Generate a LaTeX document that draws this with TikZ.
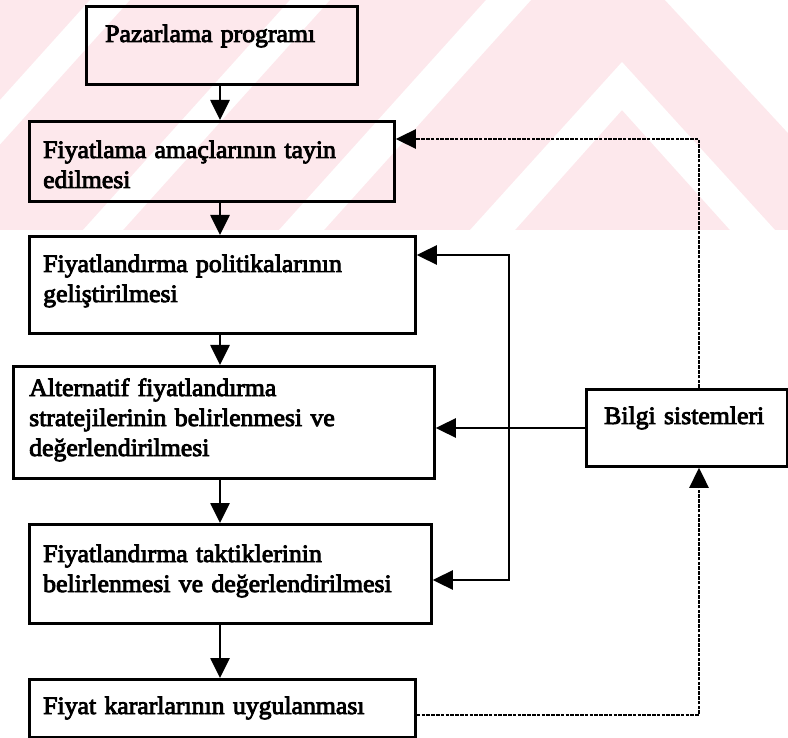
\documentclass[tikz,border=0pt]{standalone}
\usepackage{fontspec}
\setmainfont{Liberation Serif}[FakeStretch=1.03,FakeBold=3.5]
\usetikzlibrary{arrows.meta}
\definecolor{wmpink}{HTML}{FDE8EC}
\begin{document}
\begin{tikzpicture}[x=1pt,y=-1pt,
  >={Triangle[length=20pt,width=19pt]},
  box/.style={draw=black, line width=2.8pt, anchor=north west, inner sep=0pt},
  txt/.style={anchor=base west, inner sep=0pt, align=left, text width=#1,
    font=\fontsize{25}{30}\selectfont},
  flow/.style={draw=black, line width=2.7pt},
  info/.style={draw=black, line width=2.7pt, dash pattern=on 3.6pt off 1.2pt}]

% page frame
\useasboundingbox (0,0) rectangle (788,738);
\fill[white] (0,0) rectangle (788,738);

% faint emblem behind the upper part
\begin{scope}
  \clip (0,0) rectangle (788,230);
  \fill[wmpink] (0,0) rectangle (788,230);
  \fill[white] (531,0) -- (486,0) -- (279,230) -- (324,230) -- cycle;
  \fill[white] (622,62) -- (470,230) -- (515,230) -- (622,110) -- (730,230) -- (775,230) -- cycle;
  \fill[white] (665,0) -- (788,0) -- (788,133) -- cycle;
  \fill[white] (330,0) -- (290,0) -- (83,230) -- (123,230) -- cycle;
  \fill[white] (130,0) -- (90,0) -- (-117,230) -- (-77,230) -- cycle;
\end{scope}

% boxes
\node[box, minimum width=271pt, minimum height=78pt]  (b1) at (85,5)   {};
\node[box, minimum width=365pt, minimum height=80pt]  (b2) at (28,120) {};
\node[box, minimum width=386pt, minimum height=97pt]  (b3) at (28,235) {};
\node[box, minimum width=421pt, minimum height=112pt] (b4) at (12,365) {};
\node[box, minimum width=402pt, minimum height=99pt]  (b5) at (28,523) {};
\node[box, minimum width=386pt, minimum height=58pt]  (b6) at (28,678) {};
\node[box, minimum width=201pt, minimum height=77pt]  (bi) at (585,388) {};

% labels
\node[txt=240pt] (t1) at (105,42)  {Pazarlama programı};
\node[txt=340pt] (t2) at (43,158)  {Fiyatlama amaçlarının tayin\\edilmesi};
\node[txt=360pt] (t3) at (43,272)  {Fiyatlandırma politikalarının\\geliştirilmesi};
\node[txt=390pt] (t4) at (29,396)  {Alternatif fiyatlandırma\\stratejilerinin belirlenmesi ve\\değerlendirilmesi};
\node[txt=380pt] (t5) at (43,562)  {Fiyatlandırma taktiklerinin\\belirlenmesi ve değerlendirilmesi};
\node[txt=360pt] (t6) at (43,714)  {Fiyat kararlarının uygulanması};
\node[txt=180pt] (ti) at (604,424) {Bilgi sistemleri};

% guide coordinates for the connectors
\coordinate (axis) at (220,0);
\coordinate (loopx) at (509,0);
\coordinate (infox) at (699,0);
\coordinate (y2) at (0,139);
\coordinate (y3) at (0,255);
\coordinate (y4) at (0,428);
\coordinate (y5) at (0,580);
\coordinate (y6) at (0,715);

% main chain
\draw[flow,->] (axis |- b1.south) -- (axis |- b2.north);
\draw[flow,->] (axis |- b2.south) -- (axis |- b3.north);
\draw[flow,->] (axis |- b3.south) -- (axis |- b4.north);
\draw[flow,->] (axis |- b4.south) -- (axis |- b5.north);
\draw[flow,->] (axis |- b5.south) -- (axis |- b6.north);

% feedback loop on the right of the chain
\draw[flow,<->] (b3.east |- y3) -- (loopx |- y3) -- (loopx |- y5) -- (b5.east |- y5);
\draw[flow,->] (bi.west |- y4) -- (b4.east |- y4);

% information flows (dotted)
\draw[info,->] (infox |- bi.north) |- (b2.east |- y2);
\draw[info,->] (b6.east |- y6) -| (infox |- bi.south);
\end{tikzpicture}
\end{document}
